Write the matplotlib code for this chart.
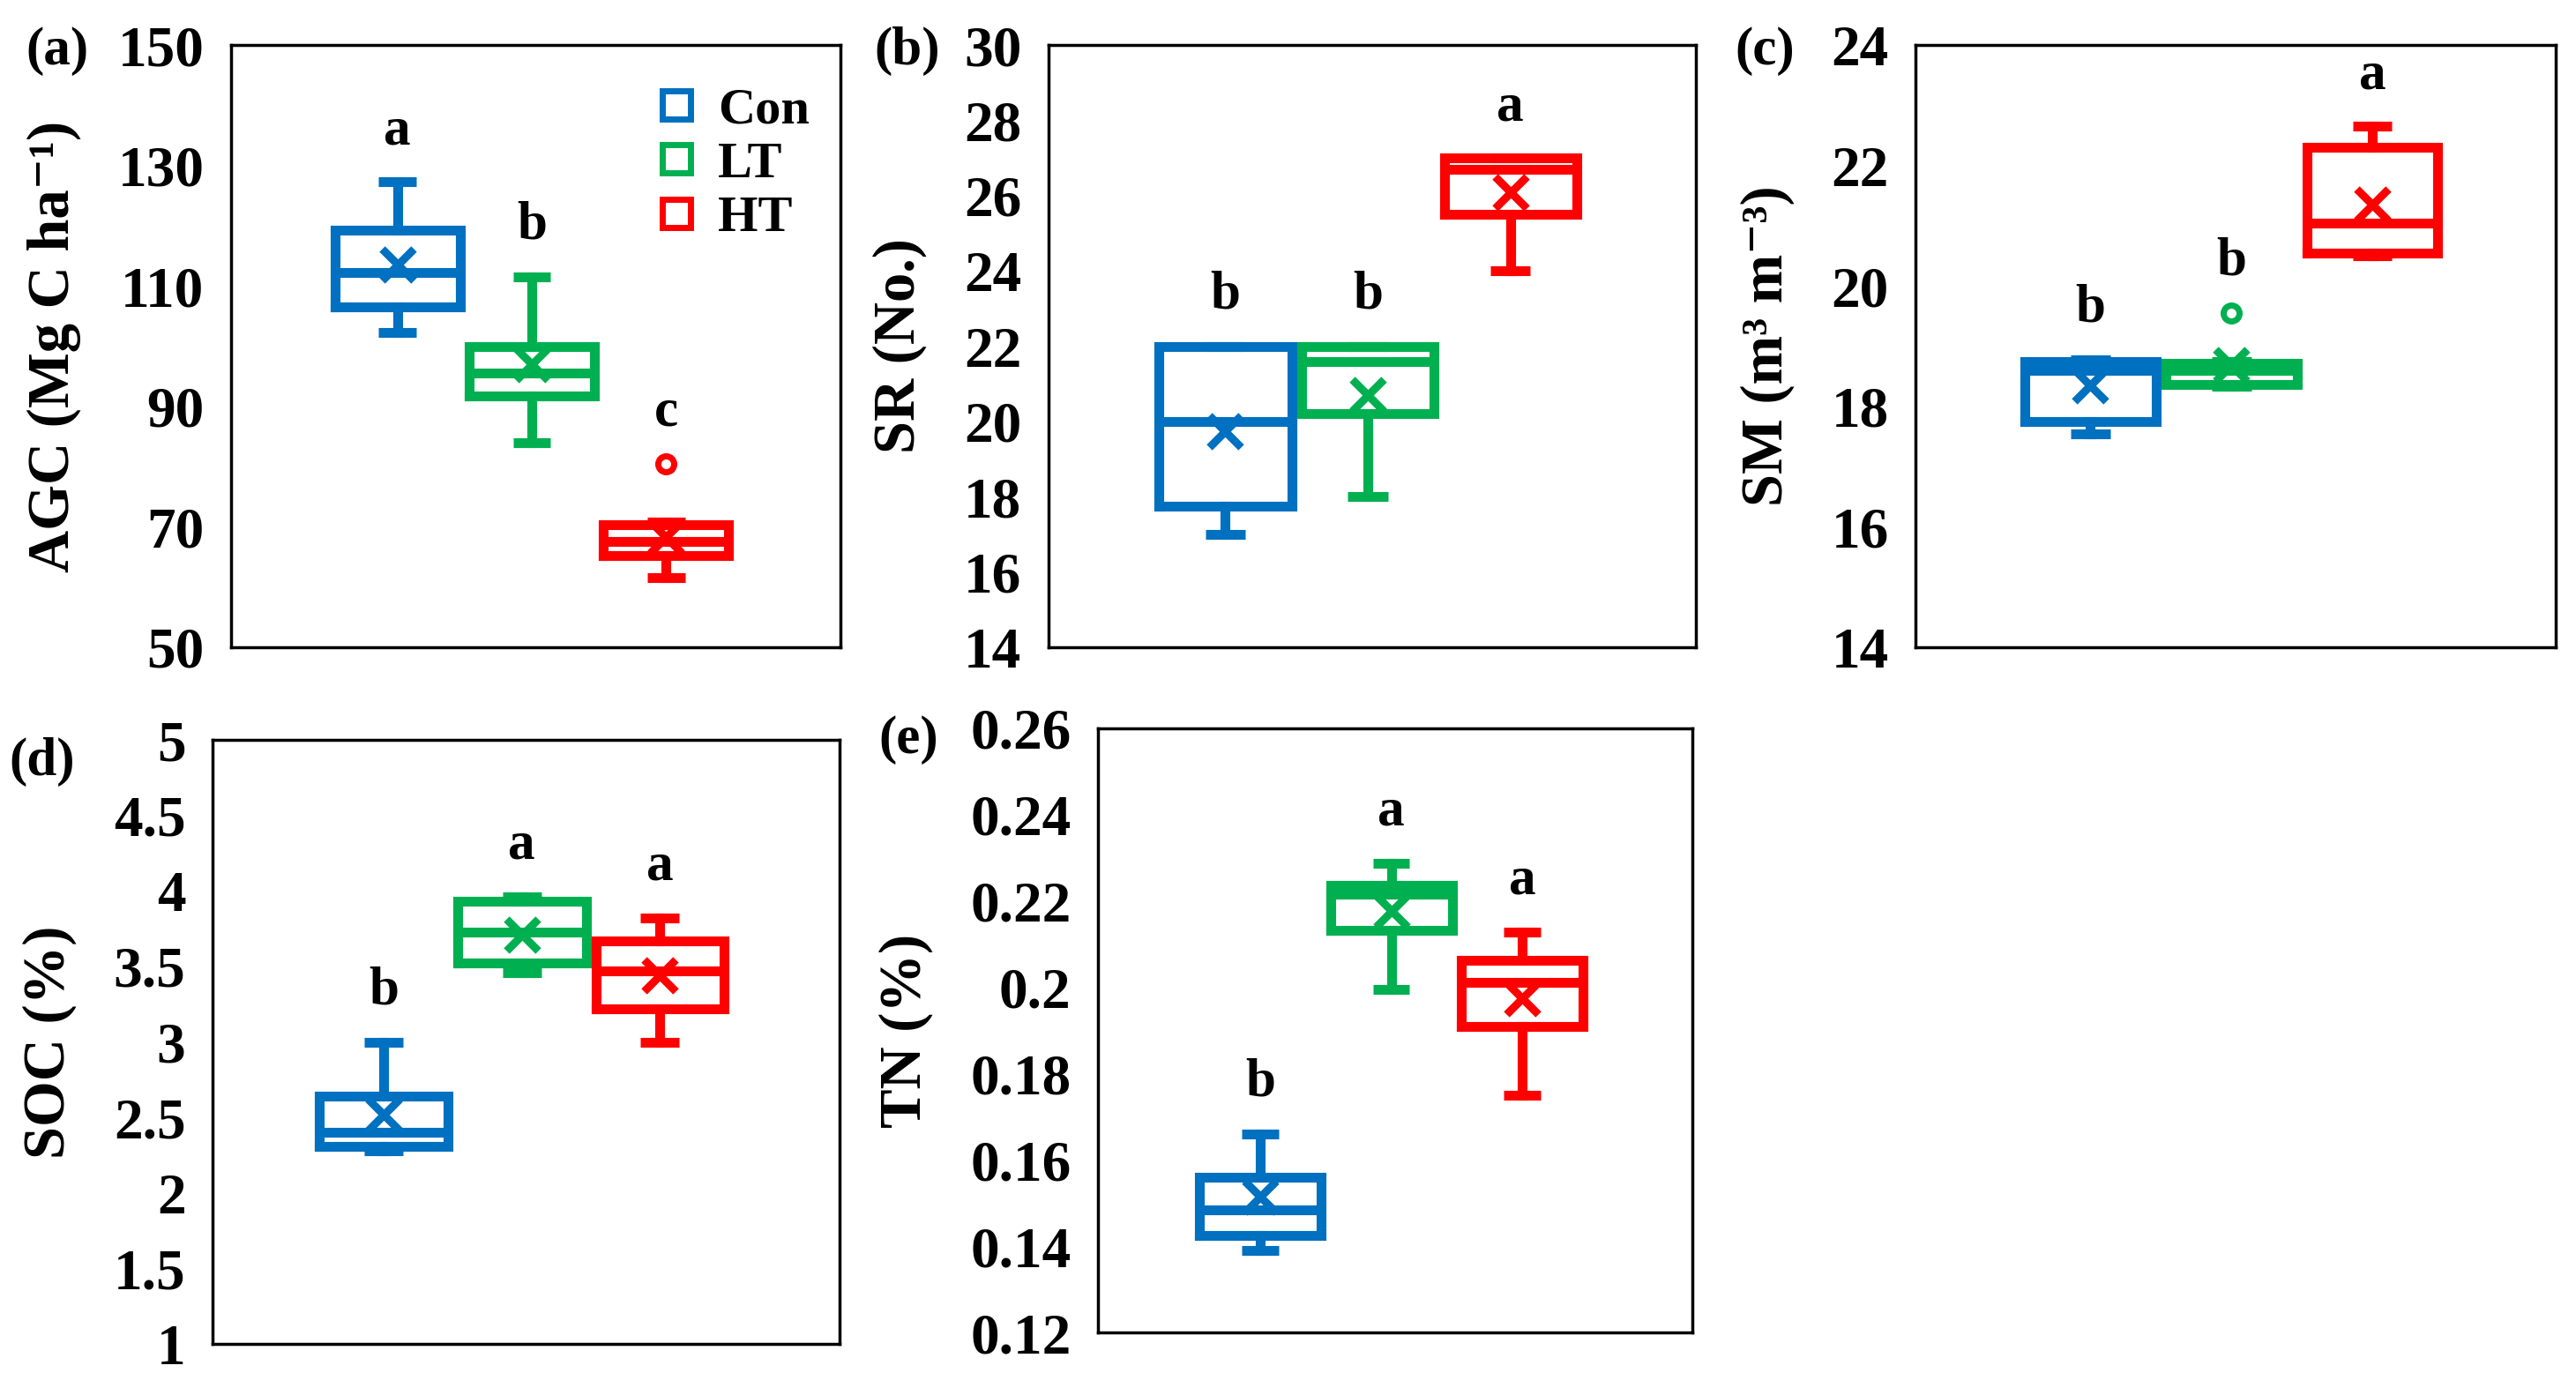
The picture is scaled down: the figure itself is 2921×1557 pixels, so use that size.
import matplotlib
matplotlib.use("Agg")
import numpy as np
import matplotlib.pyplot as plt
from matplotlib.lines import Line2D
from matplotlib.ticker import FuncFormatter

plt.rcParams['font.family'] = ['Liberation Serif', 'DejaVu Serif']
plt.rcParams['font.weight'] = 'bold'
plt.rcParams['axes.labelweight'] = 'bold'

groups = ['Con', 'LT', 'HT']
colors = ['#0070C0', '#00B050', '#FF0000']

# box statistics: Con, LT, HT
agc_lo = [102.3, 84.0, 61.5]
agc_q1 = [106.5, 91.7, 65.2]
agc_med = [112.3, 95.6, 67.5]
agc_q3 = [119.3, 100.0, 70.3]
agc_hi = [127.3, 111.5, 70.8]
agc_mean = [113.6, 97.0, 68.3]
agc_fliers = [[], [], [80.5]]
agc_letters = ['a', 'b', 'c']

sr_lo = [17.0, 18.0, 24.0]
sr_q1 = [17.75, 20.2, 25.5]
sr_med = [20.0, 21.6, 26.7]
sr_q3 = [22.0, 22.0, 27.0]
sr_hi = [22.0, 22.0, 27.0]
sr_mean = [19.75, 20.7, 26.1]
sr_fliers = [[], [], []]
sr_letters = ['b', 'b', 'a']

sm_lo = [17.55, 18.33, 20.5]
sm_q1 = [17.75, 18.37, 20.55]
sm_med = [18.6, 18.6, 21.05]
sm_q3 = [18.75, 18.72, 22.3]
sm_hi = [18.78, 18.75, 22.65]
sm_mean = [18.35, 18.68, 21.35]
sm_fliers = [[], [19.55], []]
sm_letters = ['b', 'b', 'a']

soc_lo = [2.28, 3.46, 3.0]
soc_q1 = [2.31, 3.52, 3.22]
soc_med = [2.4, 3.73, 3.47]
soc_q3 = [2.64, 3.93, 3.67]
soc_hi = [3.0, 3.96, 3.82]
soc_mean = [2.52, 3.71, 3.44]
soc_fliers = [[], [], []]
soc_letters = ['b', 'a', 'a']

tn_lo = [0.139, 0.1995, 0.175]
tn_q1 = [0.1425, 0.2133, 0.191]
tn_med = [0.1485, 0.2215, 0.2012]
tn_q3 = [0.156, 0.2237, 0.2063]
tn_hi = [0.166, 0.2287, 0.2128]
tn_mean = [0.1515, 0.2177, 0.1975]
tn_fliers = [[], [], []]
tn_letters = ['b', 'a', 'a']


def draw_panel(ax, lo, q1, med, q3, hi, mean, fliers, letters, ymin, ymax, step, ylabel):
    for i in range(3):
        c = colors[i]
        s = dict(whislo=lo[i], q1=q1[i], med=med[i], q3=q3[i], whishi=hi[i],
                 mean=mean[i], fliers=fliers[i], label=groups[i])
        line = dict(color=c, lw=8, solid_joinstyle='miter')
        ax.bxp([s], positions=[i + 1], widths=0.93, capwidths=0.28, showmeans=True,
               manage_ticks=False,
               boxprops=line, medianprops=line, whiskerprops=line,
               capprops=dict(color=c, lw=8, solid_capstyle='butt'),
               meanprops=dict(marker='x', markeredgecolor=c, markersize=26, markeredgewidth=6.5),
               flierprops=dict(marker='o', markeredgecolor=c, markerfacecolor='white',
                               markersize=13, markeredgewidth=5))
        top = max([hi[i]] + list(fliers[i]))
        ax.text(i + 1, top + 0.063 * (ymax - ymin), letters[i], ha='center', va='baseline',
                fontsize=44, fontweight='bold')
    ax.set_xlim(-0.24, 4.30)
    ax.set_ylim(ymin, ymax)
    n = int(round((ymax - ymin) / step))
    ax.set_yticks(np.linspace(ymin, ymax, n + 1))
    ax.yaxis.set_major_formatter(FuncFormatter(lambda v, p: f"{round(v, 4):g}"))
    ax.set_xticks([])
    ax.tick_params(axis='y', length=0, pad=22, labelsize=47)
    for sp in ax.spines.values():
        sp.set_linewidth(2.5)
    ax.set_ylabel(ylabel, fontsize=48, fontweight='bold', labelpad=30)


fig = plt.figure(figsize=(29.21, 15.57), dpi=100)

ax_a = fig.add_axes([0.0897, 0.5286, 0.2366, 0.4386])
ax_b = fig.add_axes([0.4070, 0.5286, 0.2513, 0.4386])
ax_c = fig.add_axes([0.7436, 0.5286, 0.2485, 0.4386])
ax_d = fig.add_axes([0.0825, 0.0212, 0.2434, 0.4399])
ax_e = fig.add_axes([0.4262, 0.0295, 0.2308, 0.4400])

draw_panel(ax_a, agc_lo, agc_q1, agc_med, agc_q3, agc_hi, agc_mean, agc_fliers, agc_letters,
           50, 150, 20, 'AGC (Mg C ha⁻¹)')
draw_panel(ax_b, sr_lo, sr_q1, sr_med, sr_q3, sr_hi, sr_mean, sr_fliers, sr_letters,
           14, 30, 2, 'SR (No.)')
draw_panel(ax_c, sm_lo, sm_q1, sm_med, sm_q3, sm_hi, sm_mean, sm_fliers, sm_letters,
           14, 24, 2, 'SM (m³ m⁻³)')
draw_panel(ax_d, soc_lo, soc_q1, soc_med, soc_q3, soc_hi, soc_mean, soc_fliers, soc_letters,
           1, 5, 0.5, 'SOC (%)')
draw_panel(ax_e, tn_lo, tn_q1, tn_med, tn_q3, tn_hi, tn_mean, tn_fliers, tn_letters,
           0.12, 0.26, 0.02, 'TN (%)')

handles = [Line2D([], [], ls='none', marker='s', mfc='none', mec=c, ms=23, mew=5) for c in colors]
ax_a.legend(handles, groups, loc='upper left', bbox_to_anchor=(0.655, 0.965), frameon=False,
            fontsize=42, handletextpad=0.3, labelspacing=0.15, borderaxespad=0, handlelength=1.0)

fig.text(0.0223, 0.9627, '(a)', ha='center', va='center', fontsize=44)
fig.text(0.352, 0.9627, '(b)', ha='center', va='center', fontsize=44)
fig.text(0.685, 0.9627, '(c)', ha='center', va='center', fontsize=44)
fig.text(0.0164, 0.445, '(d)', ha='center', va='center', fontsize=44)
fig.text(0.3526, 0.461, '(e)', ha='center', va='center', fontsize=44)

fig.savefig('out.png', dpi=100)
